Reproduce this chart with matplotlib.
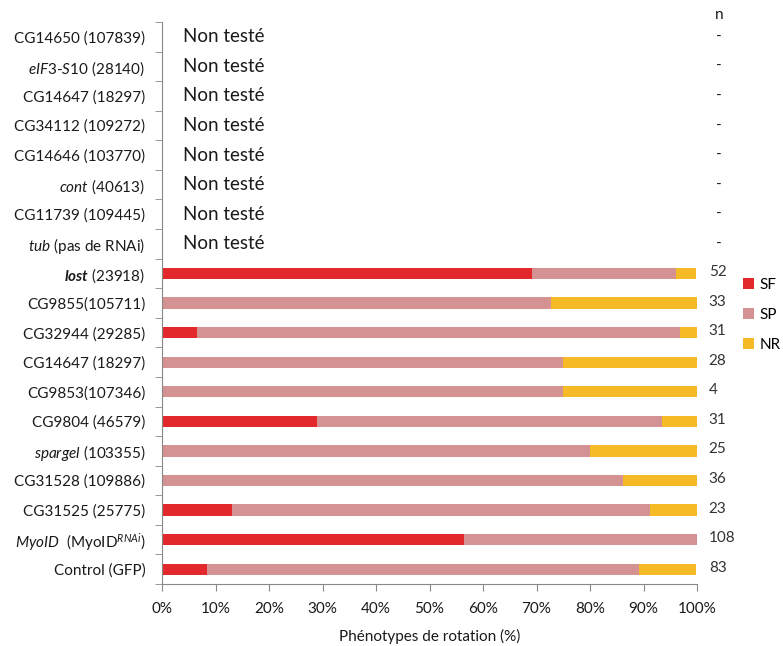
import matplotlib
matplotlib.use('Agg')
import matplotlib.pyplot as plt
import numpy as np

plt.rcParams['font.family'] = ['Lato', 'DejaVu Sans']
plt.rcParams['mathtext.fontset'] = 'custom'
plt.rcParams['mathtext.rm'] = 'Lato'
plt.rcParams['mathtext.it'] = 'Lato:italic'
plt.rcParams['mathtext.bf'] = 'Lato:bold'
plt.rcParams['mathtext.bfit'] = 'Lato:bold:italic'

# rows from top to bottom
labels = [
    "CG14650 (107839)",
    r"$\mathit{eIF3}$-$\mathit{S10}$ (28140)",
    "CG14647 (18297)",
    "CG34112 (109272)",
    "CG14646 (103770)",
    r"$\mathit{cont}$ (40613)",
    "CG11739 (109445)",
    r"$\mathit{tub}$ (pas de RNAi)",
    r"$\mathbfit{lost}$ (23918)",
    "CG9855(105711)",
    "CG32944 (29285)",
    "CG14647 (18297)",
    "CG9853(107346)",
    "CG9804 (46579)",
    r"$\mathit{spargel}$ (103355)",
    "CG31528 (109886)",
    "CG31525 (25775)",
    r"$\mathit{MyoID}$  (MyoID$^{\mathit{RNAi}}$)",
    "Control (GFP)",
]
tested = [False] * 8 + [True] * 11

# percentages for the tested rows (top to bottom)
sf = [69.2, 0.0, 6.5, 0.0, 0.0, 29.0, 0.0, 0.0, 13.0, 56.5, 8.4]
sp = [26.9, 72.7, 90.3, 75.0, 75.0, 64.5, 80.0, 86.1, 78.3, 43.5, 80.7]
nr = [3.8, 27.3, 3.2, 25.0, 25.0, 6.5, 20.0, 13.9, 8.7, 0.0, 10.8]
n_vals = ["-"] * 8 + ["52", "33", "31", "28", "4", "31", "25", "36", "23", "108", "83"]

c_sf = '#E2282A'
c_sp = '#D49392'
c_nr = '#F5BA25'

fig = plt.figure(figsize=(7.83, 6.46), dpi=100)
ax = fig.add_axes([162 / 783, 1 - 584 / 646, 535 / 783, 562 / 646])

nrows = len(labels)
ypos = np.arange(nrows)[::-1]
ybars = ypos[8:]
h = 0.38

ax.barh(ybars, sf, height=h, color=c_sf, label='SF')
ax.barh(ybars, sp, height=h, left=sf, color=c_sp, label='SP')
ax.barh(ybars, nr, height=h, left=np.array(sf) + np.array(sp), color=c_nr, label='NR')

for i in range(8):
    ax.text(3.9, ypos[i], "Non testé", fontsize=13.5, va='center', ha='left', color='#1a1a1a')

for i in range(nrows):
    if n_vals[i] == "-":
        ax.text(104.1, ypos[i], "-", fontsize=11, va='center', ha='center', color='#1a1a1a', clip_on=False)
    else:
        ax.text(102.2, ypos[i] + 0.05, n_vals[i], fontsize=11, va='center', ha='left', color='#333333', clip_on=False)
ax.text(104.1, nrows - 0.25, "n", fontsize=11, va='center', ha='center', color='#1a1a1a', clip_on=False)

ax.set_xlim(0, 100)
ax.set_ylim(-0.5, nrows - 0.5)
ax.set_xticks(np.arange(0, 101, 10))
ax.set_xticklabels([f"{v}%" for v in range(0, 101, 10)], fontsize=11, color='#1a1a1a')
ax.set_yticks(ypos)
ax.set_yticklabels(labels, fontsize=11, color='#1a1a1a')
ax.set_yticks(np.arange(-0.5, nrows, 1.0), minor=True)
ax.tick_params(axis='y', which='major', length=0, pad=12)
ax.tick_params(axis='y', which='minor', length=5, color='#888888')
ax.tick_params(axis='x', length=5, color='#888888', pad=8)
ax.set_xlabel("Phénotypes de rotation (%)", fontsize=11, color='#1a1a1a', labelpad=9)

for s in ['top', 'right']:
    ax.spines[s].set_visible(False)
for s in ['left', 'bottom']:
    ax.spines[s].set_color('#888888')

ax.legend(loc='upper left', bbox_to_anchor=(743 / 783, 1 - 278 / 646), bbox_transform=fig.transFigure,
          frameon=False, fontsize=11, handlelength=0.7, handleheight=0.7, handletextpad=0.4,
          labelspacing=1.05, borderpad=0, borderaxespad=0)

fig.savefig('out.png', dpi=100)
